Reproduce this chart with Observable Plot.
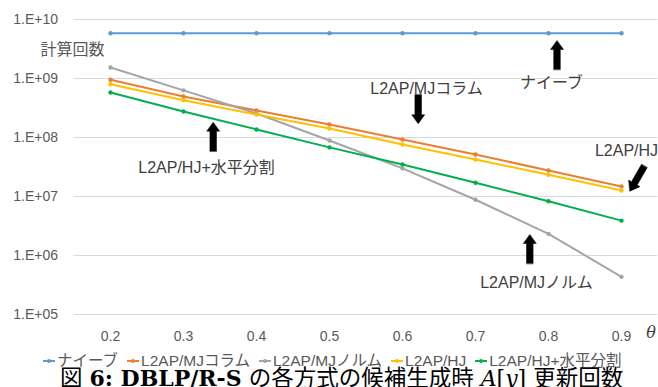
<!DOCTYPE html>
<html><head><meta charset="utf-8">
<script src="https://cdn.jsdelivr.net/npm/d3@7"></script>
<script src="https://cdn.jsdelivr.net/npm/@observablehq/plot@0.6"></script>
<style>
body{margin:0;background:#fff;width:658px;height:387px;overflow:hidden;font-family:"Liberation Sans","Noto Sans CJK JP",sans-serif;}
#chart svg{display:block}
#legend{display:flex;align-items:center;height:18px;line-height:18px;padding-left:43px;font-size:15.5px;color:#595959;white-space:nowrap;}
.item{display:flex;align-items:center;margin-right:9px}
.item svg{margin-right:2px}
#caption{padding-left:60px;font-family:"DejaVu Serif","Liberation Serif",serif;font-size:22px;line-height:22px;height:22px;color:#000;white-space:nowrap;margin-top:-5px}
#caption .j{font-family:"Noto Sans CJK JP",sans-serif;font-size:22.5px}
#caption b{font-weight:bold}
</style></head><body>
<div id="chart"></div>
<div id="legend"></div>
<div id="caption"><span class="j">図</span> <b>6: DBLP/R-S</b> <span class="j">の各方式の候補生成時</span> <i>A</i>[<i>y</i>] <span class="j">更新回数</span></div>
<script>
const thetas = [0.2, 0.3, 0.4, 0.5, 0.6, 0.7, 0.8, 0.9];
const seriesNames = ["ナイーブ", "L2AP/MJコラム", "L2AP/MJノルム", "L2AP/HJ", "L2AP/HJ+水平分割"];
const seriesColors = ["#5B9BD5", "#ED7D31", "#A5A5A5", "#FFC000", "#00B050"];
const naive   = [5.85e9, 5.85e9, 5.85e9, 5.85e9, 5.85e9, 5.85e9, 5.85e9, 5.85e9];
const mjColumn = [9.5e8, 4.96e8, 2.87e8, 1.66e8, 9.25e7, 5.15e7, 2.76e7, 1.48e7];
const mjNorm  = [1.54e9, 6.3e8, 2.55e8, 8.9e7, 3.0e7, 8.8e6, 2.33e6, 4.35e5];
const hj      = [8.0e8, 4.28e8, 2.45e8, 1.42e8, 7.6e7, 4.24e7, 2.33e7, 1.26e7];
const hjSplit = [5.8e8, 2.76e8, 1.37e8, 6.8e7, 3.49e7, 1.71e7, 8.3e6, 3.9e6];
const yTicks = [1e5, 1e6, 1e7, 1e8, 1e9, 1e10];
const yTitle = "計算回数";
const xTitle = "θ";
// annotation labels: [text, theta, value, dx]
const labels = [
  ["ナイーブ", 0.8, 8.55e8, 3],
  ["L2AP/MJコラム", 0.6, 6.78e8, 24],
  ["L2AP/HJ", 0.9, 6.0e7, 5],
  ["L2AP/HJ+水平分割", 0.3, 3.1e7, 23],
  ["L2AP/MJノルム", 0.8, 3.49e5, -12]
];
// arrows: [theta, value at tip, dx, rotate]
const arrows = [
  [0.8, 4.41e9, 8.5, 0],
  [0.6, 1.71e8, 15.7, 180],
  [0.9, 1.23e7, 8.3, 210],
  [0.3, 1.82e8, 29.7, 0],
  [0.8, 2.27e6, -18.7, 0]
];

const seriesValues = [naive, mjColumn, mjNorm, hj, hjSplit];
const rows = seriesNames.flatMap((s, i) => thetas.map((t, j) => ({series: s, theta: t, value: seriesValues[i][j]})));

const blockArrow = {
  draw(ctx, l) {
    const s = 3.3, h = 6.5, hl = 9;
    ctx.moveTo(-s, 0); ctx.lineTo(-s, -l + hl); ctx.lineTo(-h, -l + hl);
    ctx.lineTo(0, -l); ctx.lineTo(h, -l + hl); ctx.lineTo(s, -l + hl);
    ctx.lineTo(s, 0); ctx.closePath();
  }
};

const fmtY = d => "1.E+" + String(Math.round(Math.log10(d))).padStart(2, "0");
const font = '"Liberation Sans","Noto Sans CJK JP",sans-serif';

const chart = Plot.plot({
  width: 658, height: 352,
  marginLeft: 73.5, marginRight: 0.5, marginTop: 19, marginBottom: 38,
  style: {fontFamily: font, fontSize: "14px", color: "#595959", background: "white", overflow: "visible"},
  x: {type: "point", domain: thetas, padding: 0.5, label: null},
  y: {type: "log", domain: [1e5, 1e10], label: null},
  color: {domain: seriesNames, range: seriesColors},
  marks: [
    Plot.gridY(yTicks, {stroke: "#d9d9d9", strokeOpacity: 1, strokeWidth: 1}),
    Plot.axisY(yTicks, {tickSize: 0, tickPadding: 16, tickFormat: fmtY, label: null, fill: "#595959", fontSize: 14}),
    Plot.axisX(thetas, {tickSize: 0, tickPadding: 17, tickFormat: d => d.toFixed(1), label: null, fill: "#595959", fontSize: 14}),
    Plot.line(rows, {x: "theta", y: "value", z: "series", stroke: "series", strokeWidth: 2}),
    Plot.dot(rows, {x: "theta", y: "value", fill: "series", r: 2.2}),
    Plot.text([{t: thetas[0], v: 3.1e9, s: yTitle}], {x: "t", y: "v", text: "s", textAnchor: "end", dx: -6, fontSize: 16, fill: "#595959"}),
    Plot.text([xTitle], {frameAnchor: "bottom-right", textAnchor: "end", dx: -2, dy: 23, fontSize: 16, fontStyle: "italic", fontFamily: '"DejaVu Serif",serif', fill: "#404040"}),
    ...labels.map(([s, t, v, dx]) => Plot.text([{s, t, v}], {x: "t", y: "v", text: "s", dx, fontSize: 16, fill: "#404040"})),
    ...arrows.map(([t, v, dx, rot]) => Plot.vector([{t, v}], {x: "t", y: "v", dx, rotate: rot, length: 29, anchor: "end", shape: blockArrow, fill: "black", stroke: "black", strokeWidth: 0.5}))
  ]
});
document.getElementById("chart").appendChild(chart);

const legend = document.getElementById("legend");
seriesNames.forEach((s, i) => {
  const item = document.createElement("span");
  item.className = "item";
  item.innerHTML = `<svg width="12" height="10"><line x1="0" x2="12" y1="5" y2="5" stroke="${seriesColors[i]}" stroke-width="2"/><circle cx="6" cy="5" r="2" fill="${seriesColors[i]}"/></svg><span>${s}</span>`;
  legend.appendChild(item);
});
</script>
</body></html>
